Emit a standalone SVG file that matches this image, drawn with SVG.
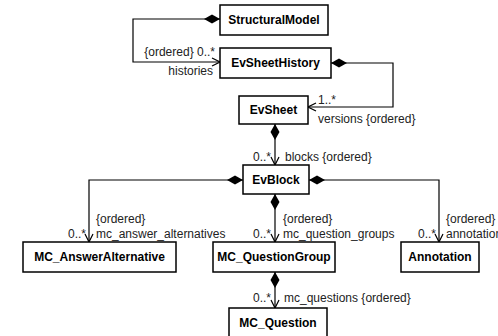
<svg xmlns="http://www.w3.org/2000/svg" width="498" height="336" viewBox="0 0 498 336">
<defs>
<marker id="dia" viewBox="0 0 16 10" refX="0" refY="5" markerWidth="16" markerHeight="10" markerUnits="userSpaceOnUse" orient="auto">
<path d="M0,5 L8,0.5 L16,5 L8,9.5 Z" fill="#000"/>
</marker>
<marker id="arr" viewBox="0 0 10 10" refX="9" refY="5" markerWidth="10" markerHeight="10" markerUnits="userSpaceOnUse" orient="auto">
<path d="M1,1 L9,5 L1,9" fill="none" stroke="#000" stroke-width="1.2"/>
</marker>
</defs>
<style>
.box{fill:#fff;stroke:#000;stroke-width:1.5}
.nm{font-family:"Liberation Sans",Arial,sans-serif;font-weight:bold;font-size:12px;fill:#000;text-anchor:middle}
.lb{font-family:"Liberation Sans",Arial,sans-serif;font-size:12px;fill:#222}
.e{text-anchor:end}
.c{fill:none;stroke:#000;stroke-width:1.2}
</style>
<rect width="498" height="336" fill="#fff"/>
<g id="connectors">
<polyline class="c" points="220,19 133,19 133,62 220,62" marker-start="url(#dia)" marker-end="url(#arr)"/>
<polyline class="c" points="331,63 393,63 393,107 308,107" marker-start="url(#dia)" marker-end="url(#arr)"/>
<polyline class="c" points="275,124 275,165" marker-start="url(#dia)" marker-end="url(#arr)"/>
<polyline class="c" points="243,180 89,180 89,242" marker-start="url(#dia)" marker-end="url(#arr)"/>
<polyline class="c" points="309,180 439,180 439,242" marker-start="url(#dia)" marker-end="url(#arr)"/>
<polyline class="c" points="275,194 275,242" marker-start="url(#dia)" marker-end="url(#arr)"/>
<polyline class="c" points="275,272 275,308" marker-start="url(#dia)" marker-end="url(#arr)"/>
<text class="lb e" x="215" y="56">{ordered} 0..*</text>
<text class="lb e" x="213" y="75">histories</text>
<text class="lb" x="318" y="104">1..*</text>
<text class="lb" x="318" y="123">versions {ordered}</text>
<text class="lb e" x="271" y="161">0..*</text>
<text class="lb" x="285" y="161">blocks {ordered}</text>
<text class="lb" x="96" y="223">{ordered}</text>
<text class="lb" x="96" y="238">mc_answer_alternatives</text>
<text class="lb e" x="86" y="238">0..*</text>
<text class="lb" x="283" y="223">{ordered}</text>
<text class="lb" x="283" y="238">mc_question_groups</text>
<text class="lb e" x="271" y="238">0..*</text>
<text class="lb" x="446" y="223">{ordered}</text>
<text class="lb" x="446" y="238">annotation</text>
<text class="lb e" x="436" y="238">0..*</text>
<text class="lb e" x="271" y="302">0..*</text>
<text class="lb" x="284" y="302">mc_questions {ordered}</text>
</g>
<g id="StructuralModel"><rect class="box" x="220" y="5" width="108" height="30"/><text class="nm" x="274" y="24">StructuralModel</text></g>
<g id="EvSheetHistory"><rect class="box" x="220" y="48" width="111" height="30"/><text class="nm" x="275.5" y="67">EvSheetHistory</text></g>
<g id="EvSheet"><rect class="box" x="239" y="96" width="69" height="28"/><text class="nm" x="273.5" y="114">EvSheet</text></g>
<g id="EvBlock"><rect class="box" x="243" y="165" width="66" height="29"/><text class="nm" x="276" y="184">EvBlock</text></g>
<g id="MC_AnswerAlternative"><rect class="box" x="23" y="242" width="153" height="30"/><text class="nm" x="99.5" y="261">MC_AnswerAlternative</text></g>
<g id="MC_QuestionGroup"><rect class="box" x="213" y="242" width="122" height="30"/><text class="nm" x="274" y="261">MC_QuestionGroup</text></g>
<g id="Annotation"><rect class="box" x="401" y="242" width="78" height="30"/><text class="nm" x="440" y="261">Annotation</text></g>
<g id="MC_Question"><rect class="box" x="229" y="308" width="98" height="30"/><text class="nm" x="278" y="327">MC_Question</text></g>
</svg>
